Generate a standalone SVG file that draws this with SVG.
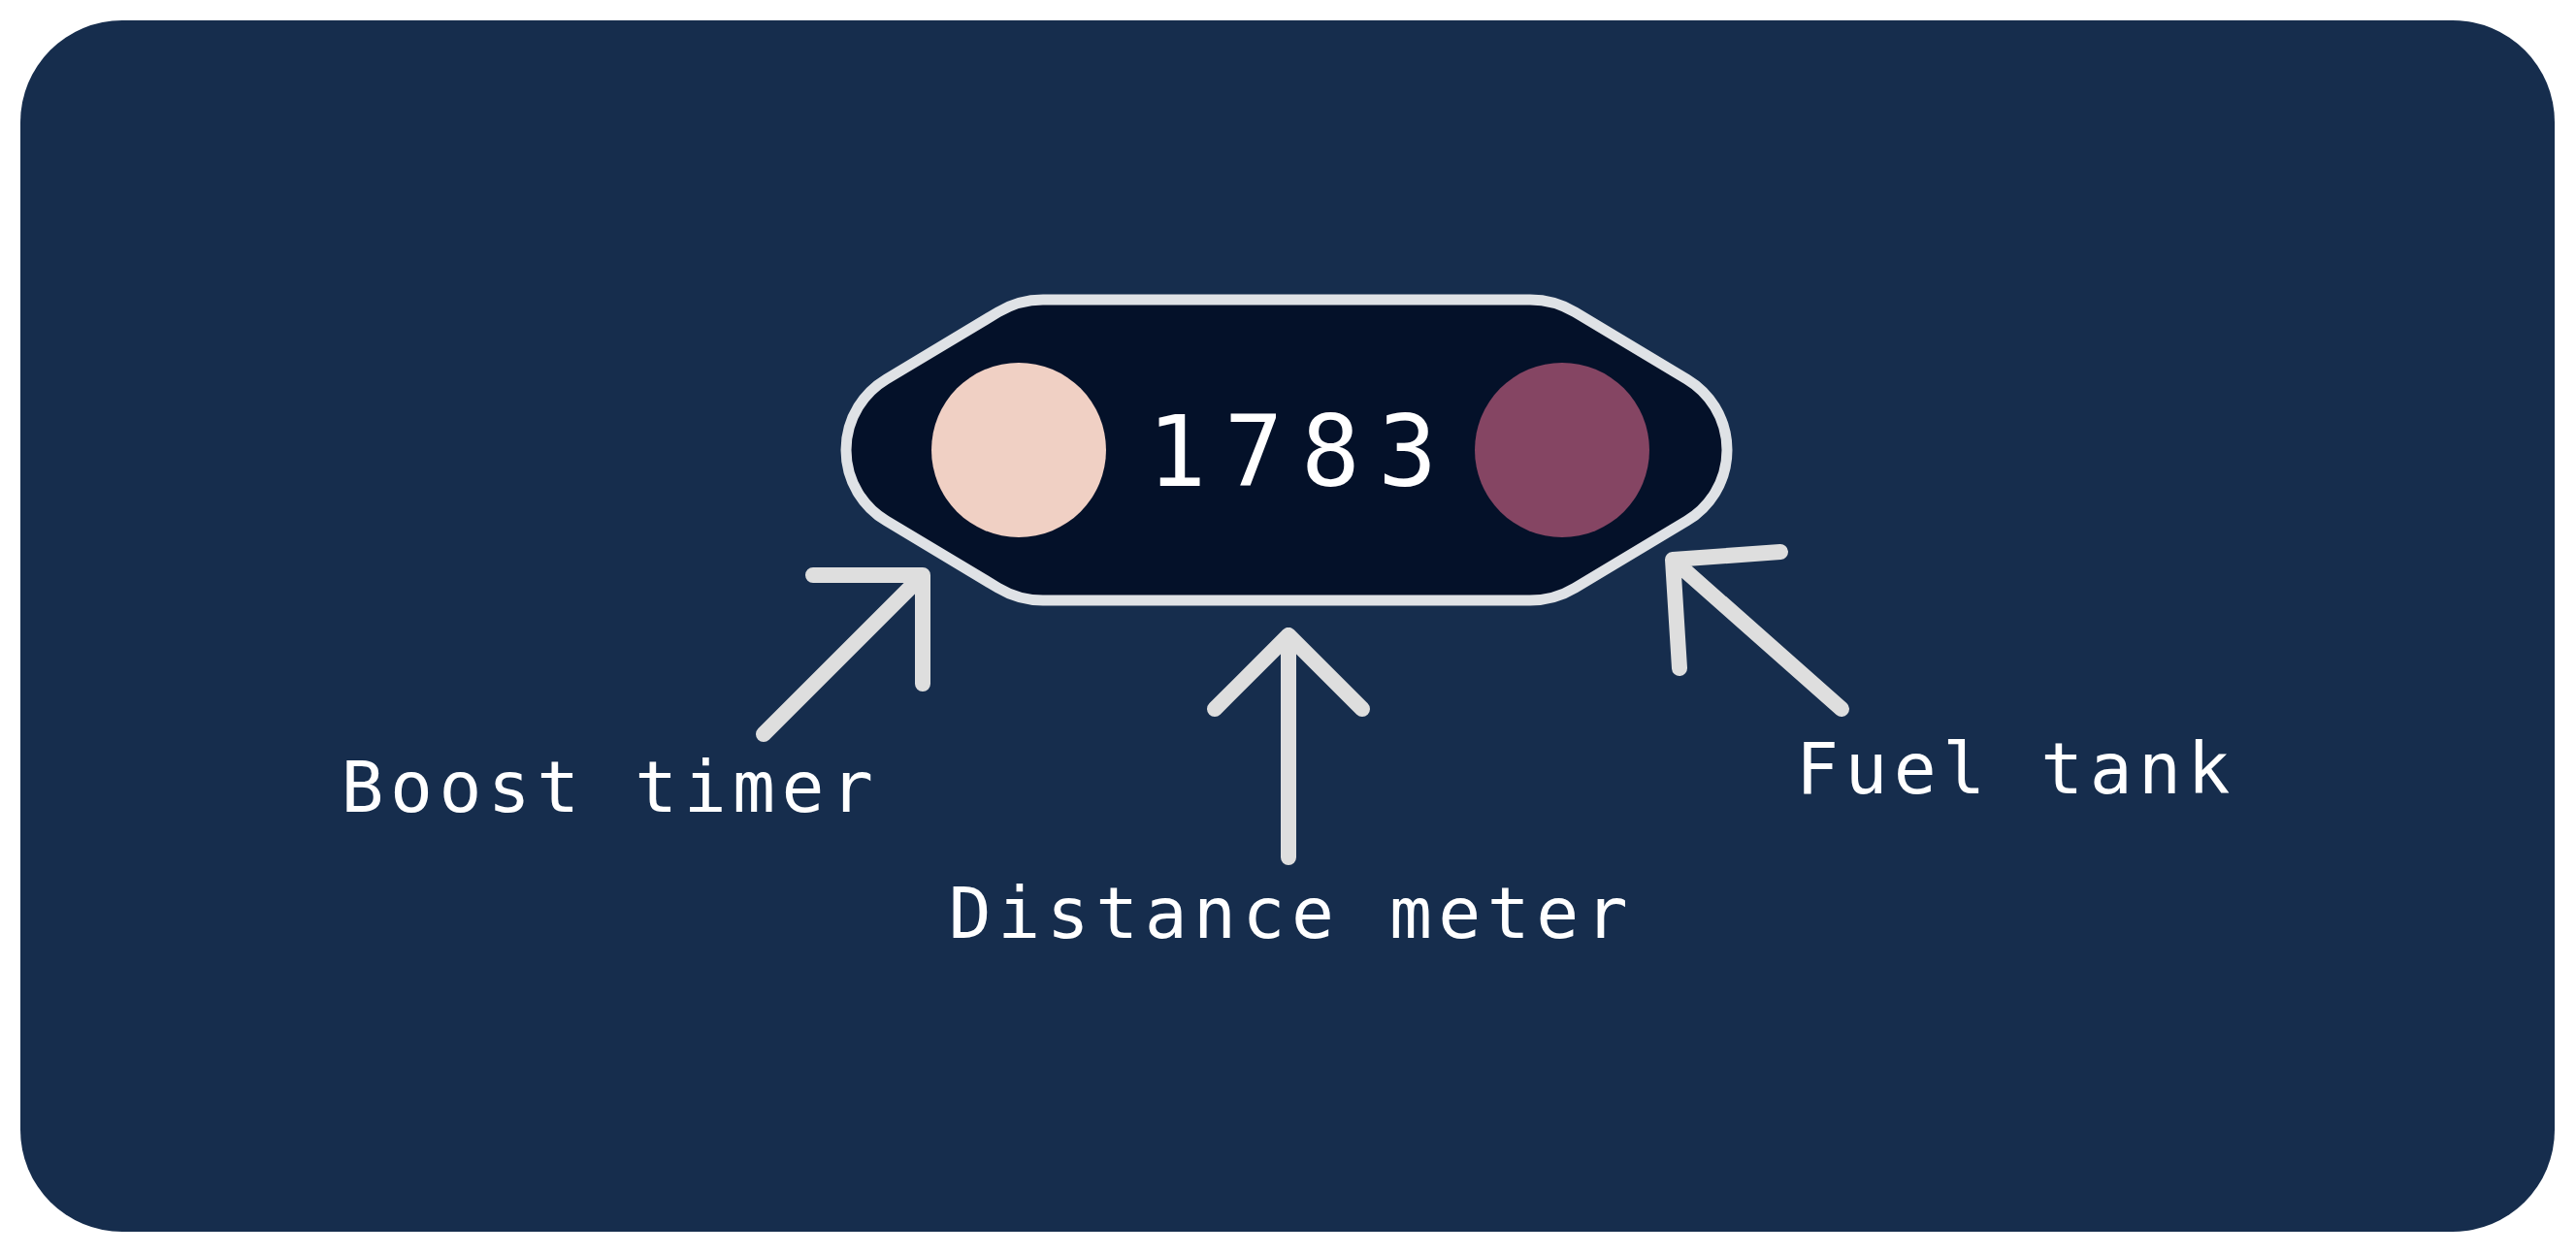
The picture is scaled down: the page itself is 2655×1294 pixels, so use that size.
<svg xmlns="http://www.w3.org/2000/svg" width="2655" height="1294" viewBox="0 0 2655 1294">
  <style>
    .label { font-family: "DejaVu Sans Mono", "Liberation Mono", monospace; font-size: 73px; fill: #ffffff; text-anchor: middle; letter-spacing: 6.5px; }
    .digits { font-family: "DejaVu Sans Mono", "Liberation Mono", monospace; font-size: 101px; fill: #ffffff; text-anchor: middle; letter-spacing: 18.5px; }
    .arrow { fill: none; stroke: #dedede; stroke-width: 16; stroke-linecap: round; stroke-linejoin: round; }
  </style>
  <rect width="2655" height="1294" fill="#ffffff"/>
  <g id="panel">
    <rect x="21" y="21" width="2612" height="1249" rx="105" ry="105" fill="#162d4d"/>
  </g>
  <g id="display">
    <path d="M 1075 309 L 1577 309 A 90 90 0 0 1 1623.4 321.9 L 1738.7 391.1 A 85 85 0 0 1 1738.7 536.9 L 1623.4 606.1 A 90 90 0 0 1 1577 619 L 1075 619 A 90 90 0 0 1 1028.6 606.1 L 913.3 536.9 A 85 85 0 0 1 913.3 391.1 L 1028.6 321.9 A 90 90 0 0 1 1075 309 Z" fill="#041129" stroke="#dfe2e6" stroke-width="11"/>
  </g>
  <g id="boost-light">
    <circle cx="1050" cy="464" r="90" fill="#f0d0c4"/>
  </g>
  <g id="fuel-light">
    <circle cx="1610" cy="464" r="90" fill="#854563"/>
  </g>
  <g id="distance-value">
    <text class="digits" x="1341" y="501">1783</text>
  </g>
  <g id="connectors">
    <path class="arrow" d="M 787 757 L 951 593 M 838 593 L 951 593 L 951 705"/>
    <path class="arrow" d="M 1328 884 L 1328 655 M 1252 731 L 1328 655 L 1404 731"/>
    <path class="arrow" d="M 1898 731 L 1724 577 M 1835 569 L 1724 577 L 1731 689"/>
  </g>
  <g id="label-boost">
    <text class="label" x="629" y="837">Boost timer</text>
  </g>
  <g id="label-distance">
    <text class="label" x="1331" y="967">Distance meter</text>
  </g>
  <g id="label-fuel">
    <text class="label" x="2078" y="818">Fuel tank</text>
  </g>
</svg>
